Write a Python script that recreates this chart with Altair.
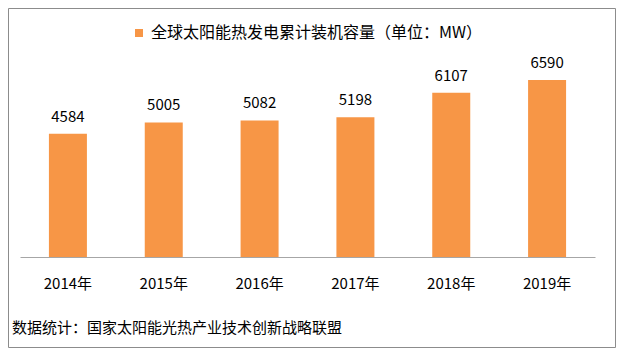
import altair as alt
import pandas as pd

years = ["2014年", "2015年", "2016年", "2017年", "2018年", "2019年"]
values = [4584, 5005, 5082, 5198, 6107, 6590]
series_name = "全球太阳能热发电累计装机容量（单位：MW）"
source_note = "数据统计：国家太阳能光热产业技术创新战略联盟"

FONT = "Noto Sans CJK SC"
ORANGE = "#F79646"

df = pd.DataFrame({"year": years, "value": values, "series": [series_name] * len(years)})

W, H = 575, 215
PAD_L, PAD_T, PAD_R, PAD_B = 12, 34, 21, 91

base = alt.Chart(df)

x_enc = alt.X(
    "year:N",
    sort=years,
    title=None,
    scale=alt.Scale(paddingInner=0.6, paddingOuter=0.3),
    axis=alt.Axis(
        labelAngle=0,
        labelFont=FONT,
        labelFontSize=15,
        labelColor="#000000",
        labelPadding=19,
        ticks=False,
        domainColor="#A6A6A6",
        domainWidth=1,
        grid=False,
    ),
)
y_enc = alt.Y(
    "value:Q",
    title=None,
    scale=alt.Scale(domain=[0, 8000]),
    axis=None,
)

bars = base.mark_bar(size=38).encode(
    x=x_enc,
    y=y_enc,
    color=alt.Color(
        "series:N",
        scale=alt.Scale(range=[ORANGE]),
        legend=alt.Legend(
            title=None,
            orient="none",
            legendX=111,
            legendY=-17,
            symbolType="square",
            symbolSize=64,
            symbolStrokeWidth=0,
            labelFont=FONT,
            labelFontSize=16,
            labelColor="#000000",
            labelLimit=600,
            padding=0,
        ),
    ),
)

labels = base.mark_text(
    font=FONT, fontSize=15, color="#000000", baseline="alphabetic", dy=-12
).encode(
    x=alt.X("year:N", sort=years),
    y=alt.Y("value:Q"),
    text=alt.Text("value:Q", format="d"),
)

note_df = pd.DataFrame({"note": [source_note]})
note = alt.Chart(note_df).mark_text(
    font=FONT, fontSize=15, color="#000000", align="left", baseline="middle"
).encode(
    x=alt.value(-8),
    y=alt.value(286),
    text="note:N",
)

border = alt.Chart(note_df).mark_rect(
    fill=None, fillOpacity=0, stroke="#8C8C8C", strokeWidth=1
).encode(
    x=alt.value(-PAD_L + 0.5),
    x2=alt.value(W + PAD_R - 0.5),
    y=alt.value(-PAD_T + 0.5),
    y2=alt.value(H + PAD_B - 0.5),
)

chart = (
    alt.layer(border, bars, labels, note)
    .properties(
        width=W,
        height=H,
        autosize=alt.AutoSizeParams(type="none"),
        padding={"left": PAD_L, "top": PAD_T, "right": PAD_R, "bottom": PAD_B},
        background="#FFFFFF",
    )
    .configure_view(stroke=None)
)

chart.save("out.html", embed_options={"renderer": "svg", "actions": False})
